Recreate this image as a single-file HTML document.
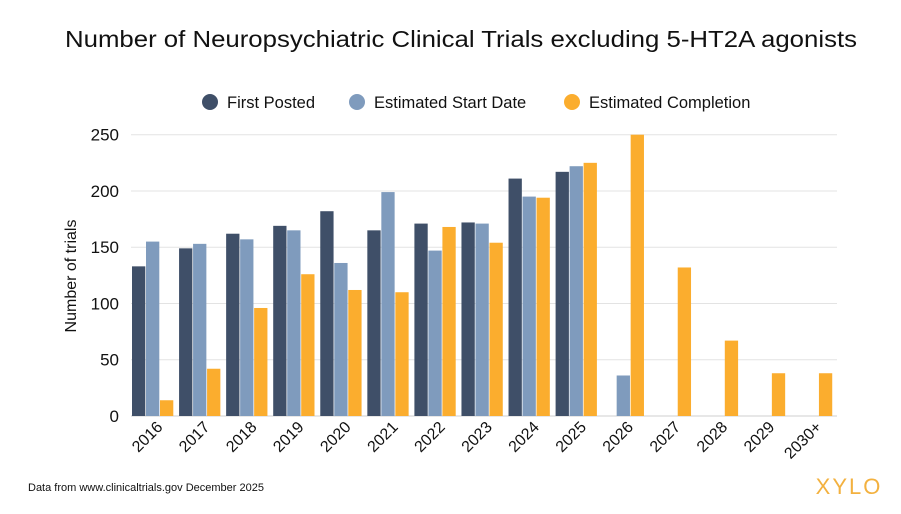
<!DOCTYPE html>
<html><head><meta charset="utf-8"><style>
body{margin:0;background:#fff;font-family:"Liberation Sans",sans-serif;}
svg text{font-family:"Liberation Sans",sans-serif;}
</style></head><body>
<svg width="901" height="509" viewBox="0 0 901 509">
<text x="65" y="47" textLength="792" lengthAdjust="spacingAndGlyphs" font-size="23" fill="#111">Number of Neuropsychiatric Clinical Trials excluding 5-HT2A agonists</text>
<g>
<g><circle cx="210" cy="102" r="8" fill="#3f4f68"/><text x="227" y="108" font-size="16.5" fill="#111">First Posted</text></g>
<g><circle cx="357" cy="102" r="8" fill="#7f9bbd"/><text x="374" y="108" font-size="16.5" fill="#111">Estimated Start Date</text></g>
<g><circle cx="572" cy="102" r="8" fill="#fbad2e"/><text x="589" y="108" font-size="16.5" fill="#111">Estimated Completion</text></g>
</g>
<g id="grid"></g><g id="bars"></g><g id="xlabels"></g><g id="ylabels"></g>
<text transform="translate(76,276) rotate(-90)" text-anchor="middle" font-size="16" fill="#111">Number of trials</text>
<text x="28" y="491" font-size="11" fill="#111">Data from www.clinicaltrials.gov December 2025</text>
<text x="849" y="494" text-anchor="middle" font-size="22" fill="#f3b13f" letter-spacing="2">XYLO</text>
</svg>
<script>
const categories=["2016","2017","2018","2019","2020","2021","2022","2023","2024","2025","2026","2027","2028","2029","2030+"];
const firstPosted=[133,149,162,169,182,165,171,172,211,217,0,0,0,0,0];
const startDate=[155,153,157,165,136,199,147,171,195,222,36,0,0,0,0];
const completion=[14,42,96,126,112,110,168,154,194,225,250,132,67,38,38];
const yTicks=[0,50,100,150,200,250];
const seriesNames=["first-posted","start-date","completion"];
const colors=["#3f4f68","#7f9bbd","#fbad2e"];
const NS="http://www.w3.org/2000/svg";
const x0=131,x1=837,y0=416,yTop=134.7,yMax=250;
const gw=(x1-x0)/categories.length;
function yS(v){return y0-(v/yMax)*(y0-yTop);}
function xS(i,s){return x0+i*gw+1+s*14;}
function mk(t,a,p){const e=document.createElementNS(NS,t);for(const k in a)e.setAttribute(k,a[k]);p.appendChild(e);return e;}
const grid=document.getElementById('grid'),bars=document.getElementById('bars'),xl=document.getElementById('xlabels'),yl=document.getElementById('ylabels');
yTicks.forEach(v=>{
 const l=mk('line',{x1:x0,x2:x1,y1:yS(v),y2:yS(v),stroke:v===0?'#cfcfcf':'#e3e3e3','stroke-width':1},grid);
 
 
 const t=mk('text',{x:119,y:yS(v)+6,'text-anchor':'end','font-size':17,fill:'#111'},yl);
 t.textContent=v;
 
 
});
[firstPosted,startDate,completion].forEach((arr,s)=>{
 arr.forEach((v,i)=>{
  if(v<=0)return;
  const r=mk('rect',{x:xS(i,s),y:yS(v),width:13.3,height:y0-yS(v),fill:colors[s]},bars);
  
  
 });
});
categories.forEach((c,i)=>{
 const cx=x0+i*gw+gw/2+9, cy=428;
 const t=mk('text',{x:cx,y:cy,'text-anchor':'end','font-size':16,fill:'#111',transform:`rotate(-45 ${cx} ${cy})`},xl);
 t.textContent=c;
 
 
});
</script>
</body></html>
